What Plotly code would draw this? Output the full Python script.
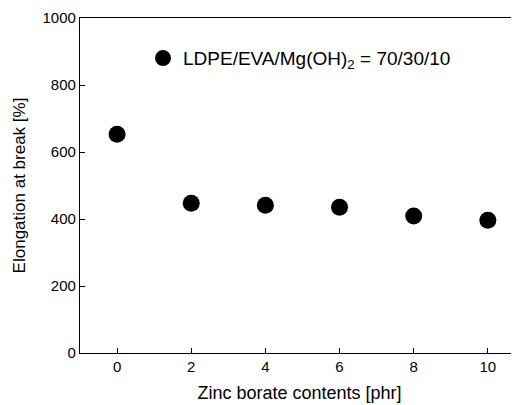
import plotly.graph_objects as go

zinc_borate = [0, 2, 4, 6, 8, 10]
elongation = [653, 447, 441, 435, 409, 396]
x_ticks = [0, 2, 4, 6, 8, 10]
y_ticks = [0, 200, 400, 600, 800, 1000]

fig = go.Figure()
fig.add_trace(go.Scatter(
    x=zinc_borate, y=elongation, mode="markers",
    marker=dict(color="black", size=17),
    name="LDPE/EVA/Mg(OH)<sub>2</sub> = 70/30/10",
    showlegend=True,
))

font = dict(family="Liberation Sans, Arial, sans-serif", color="black")
fig.update_layout(
    width=511, height=397,
    margin=dict(l=72, r=0, t=10, b=52, pad=0, autoexpand=False),
    paper_bgcolor="white", plot_bgcolor="white",
    font=dict(**font, size=15),
    showlegend=True,
    legend=dict(x=0.1435, y=0.88, xanchor="left", yanchor="middle",
                bgcolor="rgba(0,0,0,0)", font=dict(size=19), itemsizing="trace"),
)
fig.update_xaxes(
    range=[-1, 10.84], tickvals=x_ticks, ticks="inside", ticklen=5,
    tickcolor="black", showline=True, linecolor="black", linewidth=1.2,
    mirror=True, showgrid=False, zeroline=False, automargin=False,
    title=dict(text="Zinc borate contents [phr]", font=dict(size=18), standoff=12),
    tickfont=dict(size=15),
)
fig.update_yaxes(
    range=[0, 1000], tickvals=y_ticks, ticks="inside", ticklen=5,
    tickcolor="black", showline=True, linecolor="black", linewidth=1.2,
    showgrid=False, zeroline=False, automargin=False,
    title=dict(text="Elongation at break [%]", font=dict(size=17), standoff=12),
    tickfont=dict(size=15),
)
fig.write_html("out.html")
